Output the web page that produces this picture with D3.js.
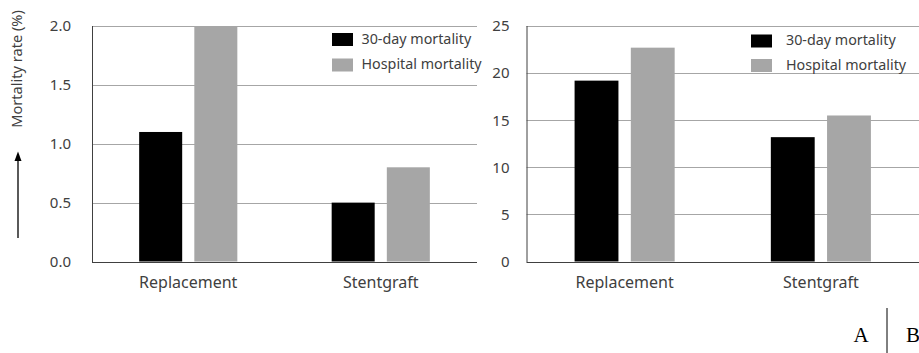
<!DOCTYPE html>
<html>
<head>
<meta charset="utf-8">
<script src="https://cdn.jsdelivr.net/npm/d3@7"></script>
<style>
  html, body { margin: 0; padding: 0; background: #fff; }
  svg { display: block; }
  .sans { font-family: "Noto Sans", sans-serif; fill: #404040; }
  .serif { font-family: "Liberation Serif", "DejaVu Serif", serif; fill: #000; }
</style>
</head>
<body>
<svg id="chart" width="919" height="353"></svg>
<script>
// Categories and series
const categories = ["Replacement", "Stentgraft"];
const seriesNames = ["30-day mortality", "Hospital mortality"];
const seriesColors = ["#000000", "#a6a6a6"];

// Panel A values (%)
const panelA30day = [1.1, 0.5];
const panelAHospital = [2.0, 0.8];
const panelATicks = [0, 0.5, 1.0, 1.5, 2.0];

// Panel B values
const panelB30day = [19.2, 13.2];
const panelBHospital = [22.7, 15.5];
const panelBTicks = [0, 5, 10, 15, 20, 25];

const svg = d3.select("#chart");

function drawPanel(cfg) {
  const g = svg.append("g");
  const y = d3.scaleLinear().domain([0, cfg.max]).range([261.5, 26]);
  const x = d3.scaleBand().domain(categories).range([cfg.left, cfg.right]);
  const groupW = x.bandwidth() * 0.51;
  const xs = d3.scaleBand().domain(seriesNames)
    .range([-groupW / 2, groupW / 2]).paddingInner(0.22);

  // horizontal gridlines
  g.append("g").selectAll("line")
    .data(cfg.ticks.filter(t => t > 0))
    .join("line")
    .attr("x1", cfg.left).attr("x2", cfg.right)
    .attr("y1", d => Math.round(y(d)) + 0.5).attr("y2", d => Math.round(y(d)) + 0.5)
    .attr("stroke", "#a6a6a6").attr("stroke-width", 1);

  // y axis tick labels
  const yAxis = d3.axisLeft(y).tickValues(cfg.ticks).tickFormat(cfg.fmt).tickSize(0).tickPadding(cfg.pad);
  const ya = g.append("g").attr("transform", `translate(${cfg.left},0)`).call(yAxis);
  ya.select(".domain").remove();
  ya.attr("font-family", null).attr("font-size", null);
  ya.selectAll("text").attr("class", "sans").attr("font-size", 15).attr("fill", null);

  // bars
  const rows = categories.map((c, i) => ({ cat: c, vals: [cfg.s1[i], cfg.s2[i]] }));
  const grp = g.append("g").selectAll("g").data(rows).join("g")
    .attr("transform", d => `translate(${x(d.cat) + x.bandwidth() / 2},0)`);
  grp.selectAll("rect")
    .data(d => d.vals.map((v, k) => ({ v, k })))
    .join("rect")
    .attr("x", d => xs(seriesNames[d.k]))
    .attr("width", xs.bandwidth())
    .attr("y", d => y(d.v))
    .attr("height", d => y(0) - y(d.v))
    .attr("fill", d => seriesColors[d.k]);

  // vertical axis line and baseline
  g.append("line").attr("x1", cfg.left + 0.5).attr("x2", cfg.left + 0.5)
    .attr("y1", y(cfg.max)).attr("y2", y(0) + 0.5)
    .attr("stroke", "#404040").attr("stroke-width", 1);
  g.append("line").attr("x1", cfg.left).attr("x2", cfg.right)
    .attr("y1", Math.round(y(0)) + 0.5).attr("y2", Math.round(y(0)) + 0.5)
    .attr("stroke", "#404040").attr("stroke-width", 1);

  // category labels
  const xAxis = d3.axisBottom(x).tickSize(0).tickPadding(0);
  const xa = g.append("g").attr("transform", `translate(0,${y(0)})`).call(xAxis);
  xa.select(".domain").remove();
  xa.attr("font-family", null).attr("font-size", null);
  xa.selectAll("text").attr("class", "sans").attr("font-size", 16).attr("fill", null)
    .attr("dy", null).attr("y", 22).attr("dominant-baseline", "middle");

  // legend
  const lg = g.append("g");
  seriesNames.forEach((name, k) => {
    lg.append("rect").attr("x", cfg.legX).attr("y", cfg.legY[k])
      .attr("width", 21).attr("height", 13).attr("fill", seriesColors[k]);
    lg.append("text").attr("class", "sans").attr("x", cfg.legX + cfg.legGap).attr("y", cfg.legY[k] + 7)
      .attr("dominant-baseline", "middle").attr("font-size", 14.3).text(name);
  });
}

drawPanel({
  left: 92, right: 477, max: 2.0, ticks: panelATicks, fmt: d3.format(".1f"), pad: 21,
  s1: panelA30day, s2: panelAHospital, legX: 332, legY: [33, 58.5], legGap: 29.5
});

drawPanel({
  left: 526.5, right: 919, max: 25, ticks: panelBTicks, fmt: d3.format("d"), pad: 17,
  s1: panelB30day, s2: panelBHospital, legX: 751, legY: [34.5, 59], legGap: 35
});

// y axis title with upward arrow
svg.append("line").attr("x1", 18).attr("x2", 18).attr("y1", 238).attr("y2", 158)
  .attr("stroke", "#000").attr("stroke-width", 1.3);
svg.append("path").attr("d", "M14.5,161 L18,151.5 L21.5,161 Z").attr("fill", "#000");

svg.append("text").attr("class", "sans")
  .attr("transform", "translate(18,69) rotate(-90)")
  .attr("text-anchor", "middle").attr("dominant-baseline", "middle")
  .attr("font-size", 14.6).text("Mortality rate (%)");

// panel markers
svg.append("text").attr("class", "serif").attr("x", 861).attr("y", 342)
  .attr("text-anchor", "middle").attr("font-size", 21).text("A");
svg.append("line").attr("x1", 887).attr("x2", 887).attr("y1", 308).attr("y2", 353)
  .attr("stroke", "#000").attr("stroke-width", 1);
svg.append("text").attr("class", "serif").attr("x", 913).attr("y", 342)
  .attr("text-anchor", "middle").attr("font-size", 21).text("B");
</script>
</body>
</html>
